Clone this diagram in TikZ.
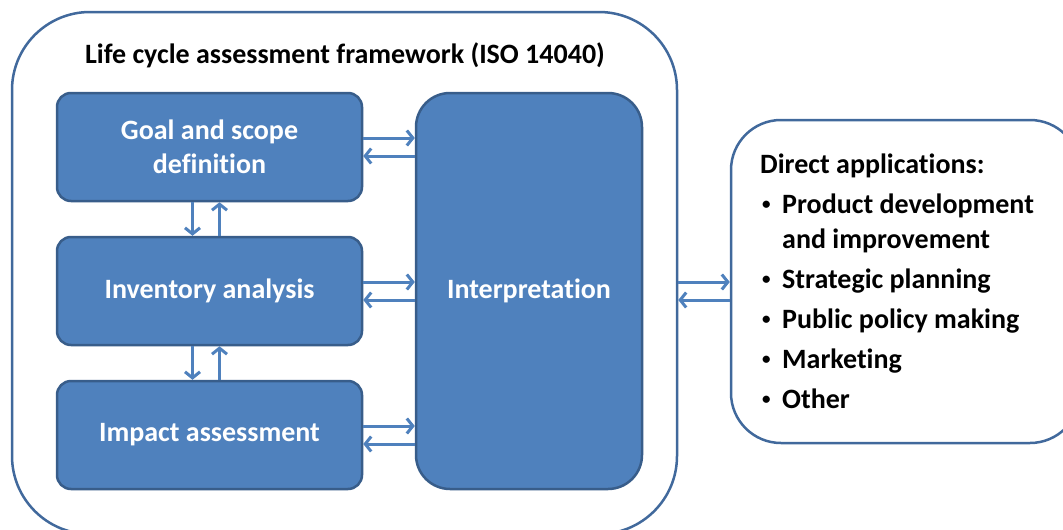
\documentclass[tikz,border=0pt]{standalone}
\usepackage{fontspec}
\setmainfont[Ligatures=NoCommon]{Carlito}
\usetikzlibrary{arrows.meta}
\definecolor{boxblue}{HTML}{4F81BD}
\definecolor{boxedge}{HTML}{385D8A}
\definecolor{frameedge}{HTML}{41699C}
\newcommand{\bigbold}{\bfseries\fontsize{28}{34}\selectfont}
\newcommand{\smallbullet}{{\fontsize{17}{17}\selectfont\raisebox{3.5pt}{\textbullet}}}
\begin{document}
\begin{tikzpicture}[x=1pt,y=-1pt,
	stage/.style={draw=boxedge,fill=boxblue,line width=2.5pt,rounded corners=14pt,
		text=white,font=\bigbold,align=center,inner sep=0pt},
	outerbox/.style={draw=frameedge,line width=2.5pt,fill=white,inner sep=0pt},
	flow/.style={draw=boxblue,line width=3pt,-{Straight Barb[length=6pt,width=15pt]}},
	item/.style={anchor=base west,inner sep=0pt,font=\bigbold}]
	\useasboundingbox (0,0) rectangle (1063,530);
	% framework and applications
	\node [outerbox,rounded corners=78pt,minimum width=665pt,minimum height=522pt] (lca) at (344.5,273) {};
	\node [font=\bigbold,inner sep=0pt] (title) at (345,55) {Life cycle assessment framework (ISO 14040)};
	\node [outerbox,rounded corners=50pt,minimum width=349pt,minimum height=323pt] (apps) at (905.5,281.5) {};
	% stages
	\node [stage,minimum width=305pt,minimum height=108pt] (goal) at (209.5,147) {Goal and scope\\definition};
	\node [stage,minimum width=305pt,minimum height=108pt] (inv) at (209.5,291) {Inventory analysis};
	\node [stage,minimum width=305pt,minimum height=108pt] (impact) at (209.5,435) {Impact assessment};
	\node [stage,rounded corners=34pt,minimum width=226pt,minimum height=396pt] (interp) at (529,291) {Interpretation};
	% arrows
	\foreach \s in {goal,inv,impact} {
		\draw [flow] ([yshift=9pt]\s.east) -- ([yshift=9pt]\s.east -| interp.west);
		\draw [flow] ([yshift=-9pt]\s.east -| interp.west) -- ([yshift=-9pt]\s.east);
	}
	\draw [flow] ([xshift=-17pt]goal.south) -- ([xshift=-17pt]goal.south |- inv.north);
	\draw [flow] ([xshift=10pt]goal.south |- inv.north) -- ([xshift=10pt]goal.south);
	\draw [flow] ([xshift=-17pt]inv.south) -- ([xshift=-17pt]inv.south |- impact.north);
	\draw [flow] ([xshift=10pt]inv.south |- impact.north) -- ([xshift=10pt]inv.south);
	\draw [flow] ([yshift=9pt]interp.east -| lca.east) -- ([yshift=9pt]interp.east -| apps.west);
	\draw [flow] ([yshift=-9pt]interp.east -| apps.west) -- ([yshift=-9pt]interp.east -| lca.east);
	% list of applications
	\node [item] (head) at (760,173) {Direct applications:};
	\node [item] (b1) at (762,213) {\smallbullet};
	\node [item] (i1) at (782,213) {Product development};
	\node [item] (i1b) at (782,248) {and improvement};
	\node [item] (b2) at (762,288) {\smallbullet};
	\node [item] (i2) at (782,288) {Strategic planning};
	\node [item] (b3) at (762,328) {\smallbullet};
	\node [item] (i3) at (782,328) {Public policy making};
	\node [item] (b4) at (762,368) {\smallbullet};
	\node [item] (i4) at (782,368) {Marketing};
	\node [item] (b5) at (762,408) {\smallbullet};
	\node [item] (i5) at (782,408) {Other};
\end{tikzpicture}
\end{document}
